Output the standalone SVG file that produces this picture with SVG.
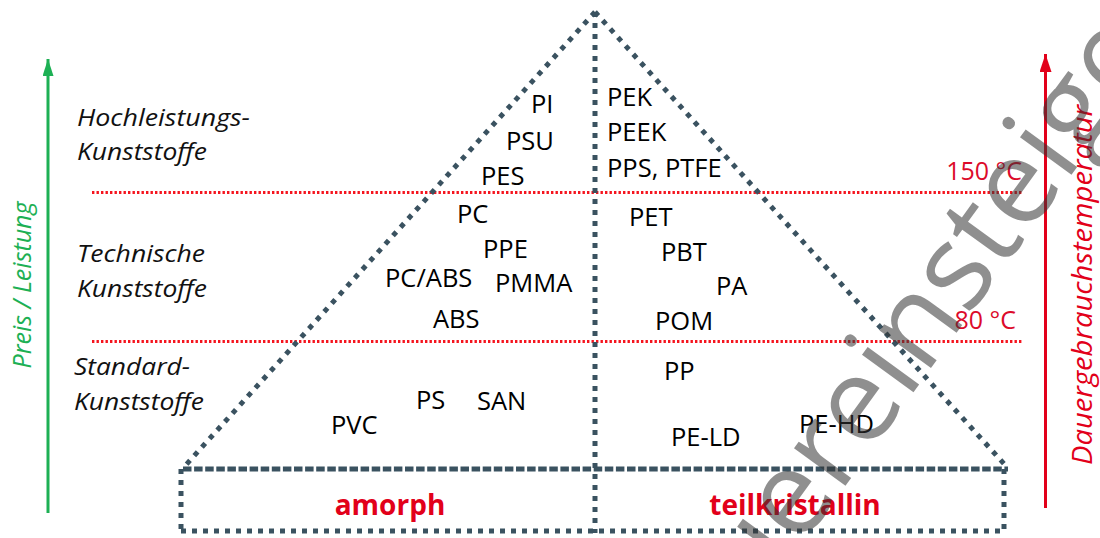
<svg xmlns="http://www.w3.org/2000/svg" width="1100" height="538" viewBox="0 0 1100 538">
  <defs>
    <marker id="headGreen" viewBox="0 0 17 11" refX="17" refY="5.5" markerWidth="17" markerHeight="11" markerUnits="userSpaceOnUse" orient="auto">
      <path d="M0 0 L17 5.5 L0 11 Z" fill="#1db054"/>
    </marker>
    <marker id="headRed" viewBox="0 0 18 12" refX="18" refY="6" markerWidth="18" markerHeight="12" markerUnits="userSpaceOnUse" orient="auto">
      <path d="M0 0 L18 6 L0 12 Z" fill="#e2001a"/>
    </marker>
    <style>
      .slope { stroke: #3a5260; stroke-width: 5; stroke-dasharray: 5 6.4; fill: none; }
      .dots { stroke: #3a5260; stroke-width: 5; stroke-dasharray: 5 6; fill: none; }
      .dash { stroke: #3a5260; stroke-width: 5; stroke-dasharray: 8.5 2.6; fill: none; }
      .limit { stroke: #f5141e; stroke-width: 3; stroke-dasharray: 2.4 2.1; fill: none; }
      .poly { font-family: "Open Sans", "Liberation Sans", sans-serif; font-size: 25.5px; fill: #000; }
      .cat { font-family: "Open Sans", "Liberation Sans", sans-serif; font-size: 23px; font-style: italic; fill: #111; }
      .temp { font-family: "Open Sans", "Liberation Sans", sans-serif; font-size: 25px; fill: #dc0a2a; }
      .base { font-family: "Open Sans", "Liberation Sans", sans-serif; font-size: 28px; font-weight: bold; fill: #e2001a; text-anchor: middle; }
      .axis { font-family: "Open Sans", "Liberation Sans", sans-serif; font-style: italic; text-anchor: middle; }
    </style>
  </defs>

  <!-- temperature limits -->
  <g id="limits">
    <line class="limit" x1="92" y1="192.5" x2="1022" y2="192.5"/>
    <line class="limit" x1="92" y1="341.5" x2="1022" y2="341.5"/>
    <text class="temp" x="1022" y="180" text-anchor="end">150 °C</text>
    <text class="temp" x="1016" y="329" text-anchor="end">80 °C</text>
  </g>

  <!-- pyramid outline and base box -->
  <g id="pyramid">
    <line class="slope" x1="595" y1="12" x2="184" y2="467"/>
    <line class="slope" x1="595" y1="12" x2="1006" y2="466"/>
    <line class="dots" x1="595" y1="12" x2="595" y2="533"/>
    <line class="dash" x1="183" y1="469" x2="1008" y2="469"/>
    <line class="dots" x1="181" y1="469" x2="181" y2="533"/>
    <line class="dots" x1="1004" y1="469" x2="1004" y2="533"/>
    <line class="dots" x1="181" y1="531" x2="1006" y2="531"/>
  </g>

  <!-- axes -->
  <g id="axis-price">
    <line x1="48" y1="513" x2="48" y2="59" stroke="#1db054" stroke-width="3" marker-end="url(#headGreen)"/>
    <text class="axis" transform="translate(31,285) rotate(-90)" font-size="25" fill="#1db054">Preis / Leistung</text>
  </g>
  <g id="axis-temperature">
    <line x1="1045.5" y1="508" x2="1045.5" y2="54" stroke="#e2001a" stroke-width="3" marker-end="url(#headRed)"/>
    <text class="axis" transform="translate(1092,285) rotate(-90)" font-size="28" fill="#e2001a" textLength="360" lengthAdjust="spacingAndGlyphs">Dauergebrauchstemperatur</text>
  </g>

  <!-- category labels -->
  <g id="categories">
    <text class="cat" x="77" y="126" textLength="173" lengthAdjust="spacingAndGlyphs">Hochleistungs-</text>
    <text class="cat" x="77" y="160" textLength="130" lengthAdjust="spacingAndGlyphs">Kunststoffe</text>
    <text class="cat" x="77" y="262" textLength="128" lengthAdjust="spacingAndGlyphs">Technische</text>
    <text class="cat" x="77" y="297" textLength="130" lengthAdjust="spacingAndGlyphs">Kunststoffe</text>
    <text class="cat" x="74" y="375" textLength="116" lengthAdjust="spacingAndGlyphs">Standard-</text>
    <text class="cat" x="74" y="410" textLength="130" lengthAdjust="spacingAndGlyphs">Kunststoffe</text>
  </g>

  <!-- high performance plastics -->
  <g id="high-performance">
    <text class="poly" x="531" y="113">PI</text>
    <text class="poly" x="506" y="150">PSU</text>
    <text class="poly" x="481" y="185">PES</text>
    <text class="poly" x="607" y="106">PEK</text>
    <text class="poly" x="607" y="141">PEEK</text>
    <text class="poly" x="607" y="177">PPS, PTFE</text>
  </g>

  <!-- engineering plastics -->
  <g id="engineering">
    <text class="poly" x="457" y="223">PC</text>
    <text class="poly" x="483" y="258">PPE</text>
    <text class="poly" x="385" y="287">PC/ABS</text>
    <text class="poly" x="495" y="292">PMMA</text>
    <text class="poly" x="433" y="328">ABS</text>
    <text class="poly" x="629" y="226">PET</text>
    <text class="poly" x="661" y="261">PBT</text>
    <text class="poly" x="716" y="295">PA</text>
    <text class="poly" x="655" y="330">POM</text>
  </g>

  <!-- standard plastics -->
  <g id="standard">
    <text class="poly" x="664" y="380">PP</text>
    <text class="poly" x="416" y="409">PS</text>
    <text class="poly" x="477" y="410">SAN</text>
    <text class="poly" x="331" y="434">PVC</text>
    <text class="poly" x="671" y="446">PE-LD</text>
    <text class="poly" x="799" y="433">PE-HD</text>
  </g>

  <!-- structure classes -->
  <g id="classes">
    <text class="base" x="390" y="515">amorph</text>
    <text class="base" x="795" y="515">teilkristallin</text>
  </g>

  <!-- watermark -->
  <text id="watermark" transform="translate(703,682) rotate(-54)" font-family="Open Sans, Liberation Sans, sans-serif" font-size="119" fill="#333" fill-opacity="0.55">Quereinsteiger</text>
</svg>
